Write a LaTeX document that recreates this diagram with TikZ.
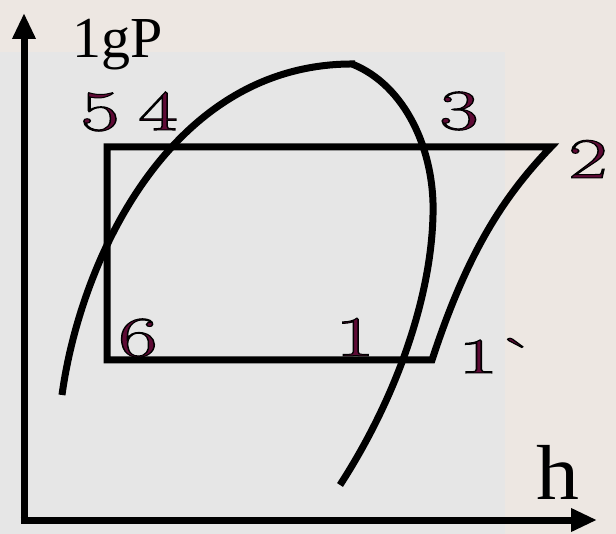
\documentclass[tikz,border=0pt]{standalone}
\usepackage{fontspec}
\newfontfamily\timesfont{Liberation Serif}
\usetikzlibrary{arrows.meta}
\definecolor{bgbeige}{HTML}{EDE7E2}
\definecolor{panelgray}{HTML}{E6E6E6}
\definecolor{labmaroon}{HTML}{5E0A35}
\newcommand{\outlined}[1]{\special{pdf:literal direct 0 G 2 Tr 1.0 w}#1\special{pdf:literal direct 0 Tr}}
\tikzset{
  axisline/.style={line width=7pt, -{Triangle[length=26pt,width=22pt]}},
  cycleline/.style={line width=7pt, line join=miter},
  domeline/.style={line width=7pt, line cap=butt},
  statelabel/.style={inner sep=0pt, text=labmaroon, font=\fontsize{57}{57}\selectfont, xscale=1.5},
  axislabel/.style={inner sep=0pt, font=\timesfont\fontsize{58}{58}\selectfont}
}
\begin{document}
\begin{tikzpicture}[x=1pt,y=-1pt]
\useasboundingbox (0,0) rectangle (616,534);
\fill[bgbeige] (0,0) rectangle (616,534);
\fill[panelgray] (0,52) rectangle (505,534);

% axes
\coordinate (O) at (24,520);
\coordinate (Ytip) at (24,13);
\coordinate (Xtip) at (597,520);
\draw[axisline] (O) -- (Ytip);
\draw[axisline] ([xshift=-3.5pt]O) -- (Xtip);

% cycle
\coordinate (s5) at (107,147);
\coordinate (s2) at (551,147);
\coordinate (s6) at (107,360);
\coordinate (s1p) at (432,360);
\draw[cycleline] (s1p) -- (s6) -- (s5) -- (s2)
  .. controls (505,195) and (468,250) .. (s1p) -- cycle;

% saturation dome
\coordinate (dL) at (62,395);
\coordinate (dT) at (355,64);
\coordinate (dT2) at (352,64);
\coordinate (dM) at (433,215);
\coordinate (dR) at (340,485);
\draw[domeline] (dL) .. controls (80,262) and (170,62) .. (dT);
\draw[domeline] (dT2) .. controls (405,85) and (435,150) .. (dM)
  .. controls (431,300) and (395,400) .. (dR);

% labels
\node[axislabel, anchor=base west] (lgp) at (72,58) {1gP};
\node[axislabel, anchor=base west, font=\timesfont\fontsize{78}{78}\selectfont, xscale=1.1] (hl) at (536,500) {h};
\node[statelabel] (l5) at (100,112) {\outlined{5}};
\node[statelabel] (l4) at (158,111) {\outlined{4}};
\node[statelabel] (l3) at (459,111) {\outlined{3}};
\node[statelabel] (l2) at (588,159) {\outlined{2}};
\node[statelabel] (l6) at (138,338) {\outlined{6}};
\node[statelabel] (l1) at (355,337) {\outlined{1}};
\node[statelabel, anchor=base west, font=\fontsize{50}{50}\selectfont, xscale=1.15] (l1p) at (458,373) {\outlined{1\textasciigrave}};
\end{tikzpicture}
\end{document}
